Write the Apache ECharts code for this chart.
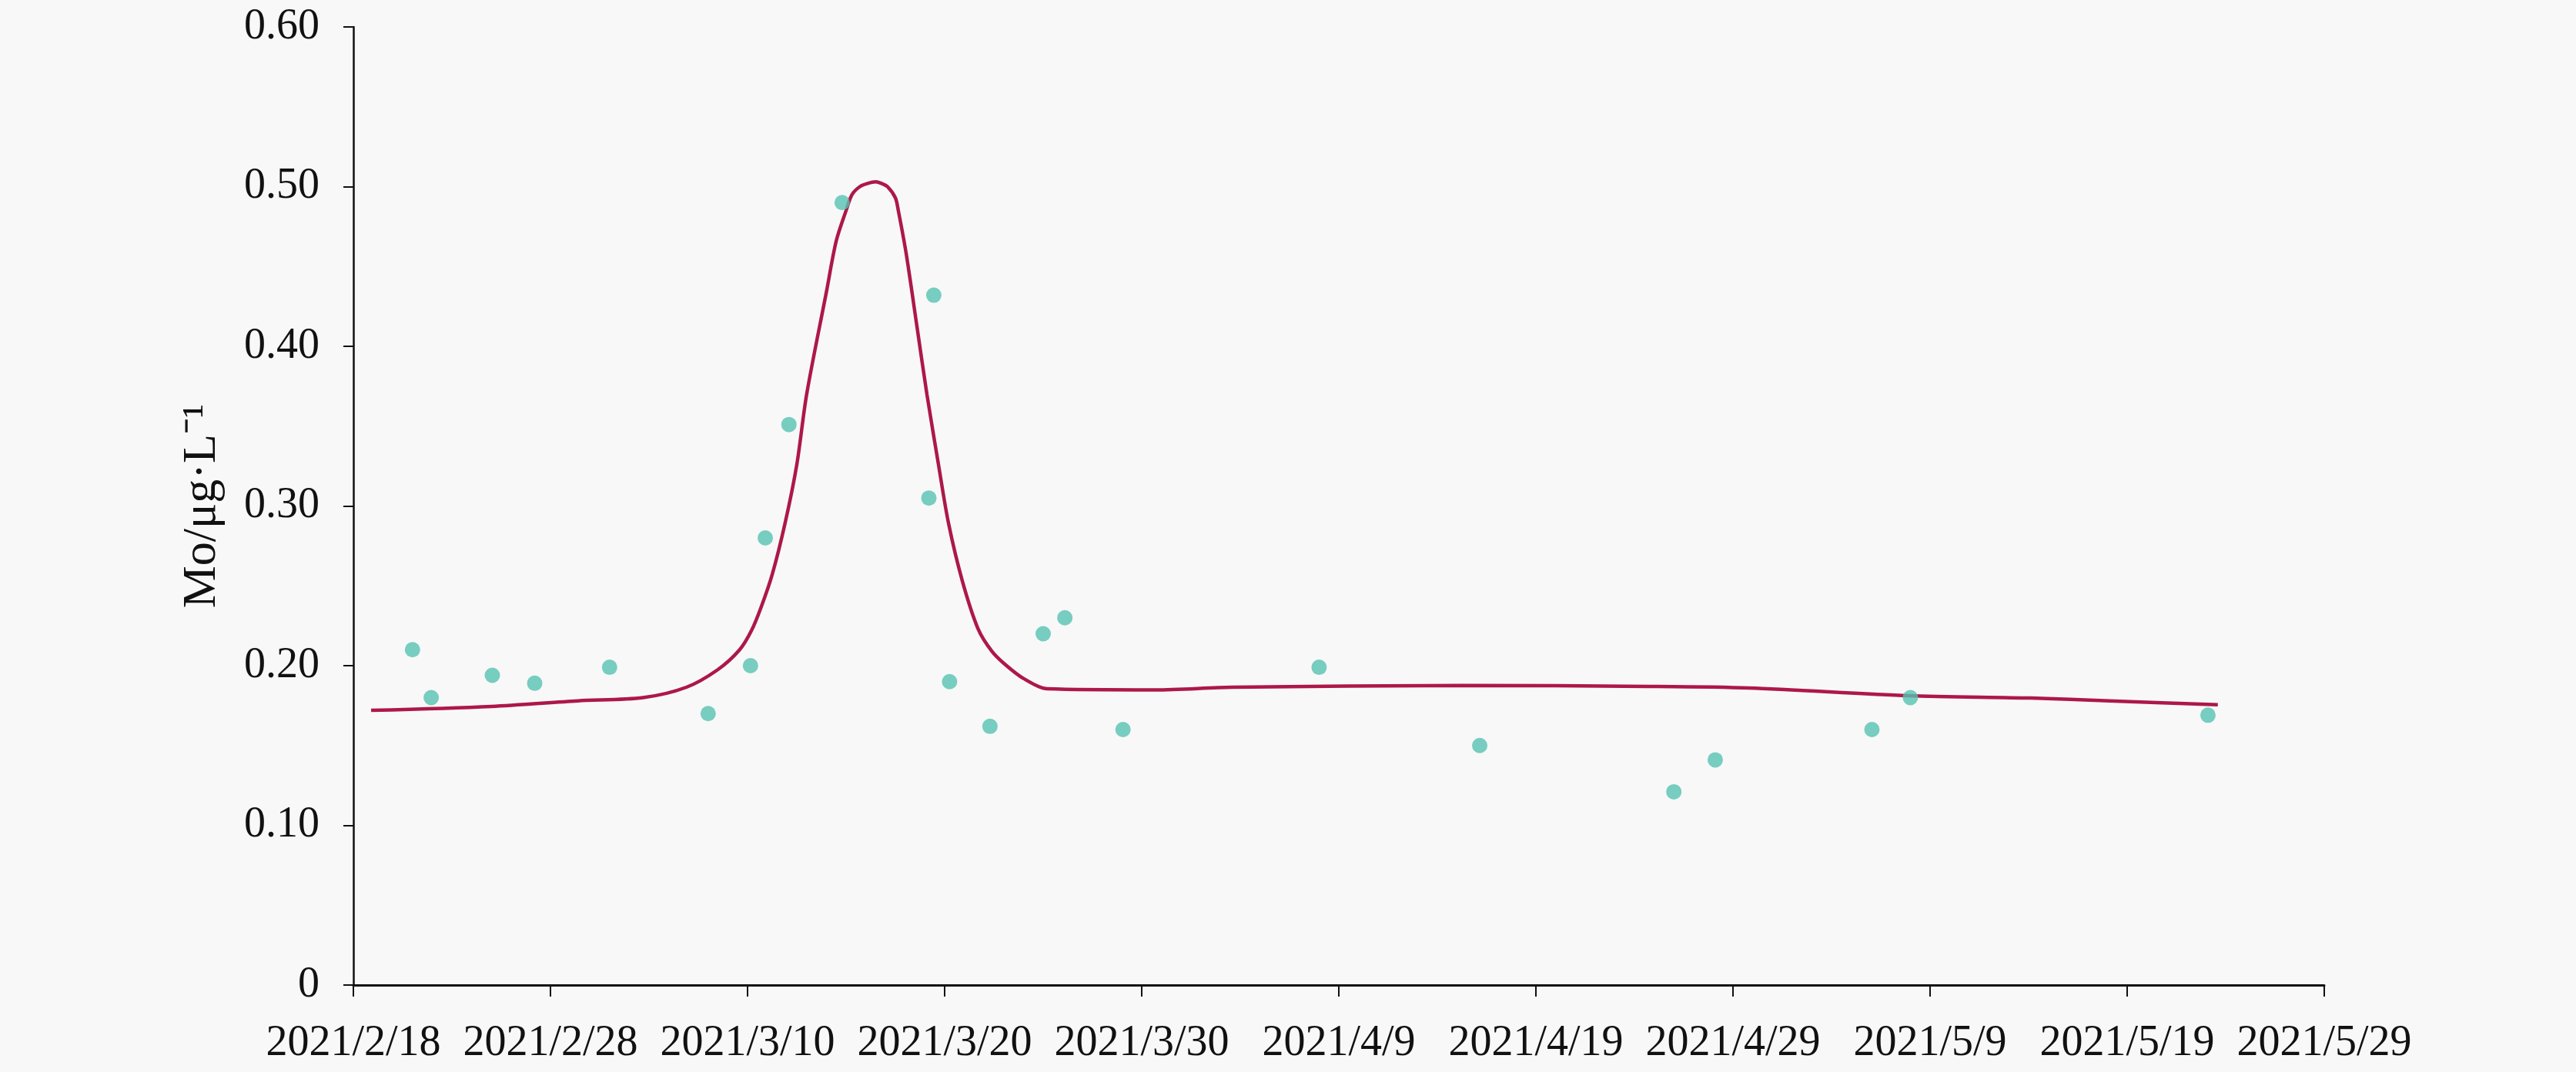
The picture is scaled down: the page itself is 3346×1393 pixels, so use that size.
<!DOCTYPE html>
<html>
<head>
<meta charset="utf-8">
<script src="https://cdn.jsdelivr.net/npm/echarts@6/dist/echarts.min.js"></script>
<style>
  html, body { margin: 0; padding: 0; background: #f8f8f8; }
  #chart { width: 3346px; height: 1393px; }
</style>
</head>
<body>
<div id="chart"></div>
<script>
// x is counted in days from 2021/2/18
const xTickLabels = ['2021/2/18', '2021/2/28', '2021/3/10', '2021/3/20', '2021/3/30',
  '2021/4/9', '2021/4/19', '2021/4/29', '2021/5/9', '2021/5/19', '2021/5/29']
const yTickLabels = ['0', '0.10', '0.20', '0.30', '0.40', '0.50', '0.60']

// measured Mo concentrations
const sampleDay = [3.0, 3.95, 7.05, 9.2, 13.0, 18.0, 20.15, 20.9, 22.1, 24.8, 29.2, 29.45,
  30.25, 32.3, 35.0, 36.1, 39.05, 49.0, 57.15, 67.0, 69.1, 77.05, 79.0, 94.1]
const sampleValue = [0.21, 0.18, 0.194, 0.189, 0.199, 0.17, 0.20, 0.28, 0.351, 0.49, 0.305, 0.432,
  0.19, 0.162, 0.22, 0.23, 0.16, 0.199, 0.15, 0.121, 0.141, 0.16, 0.18, 0.169]

// fitted curve
const fitDay = [0.9, 7.0, 11.4, 14.7, 16.9, 18.5, 19.6, 20.2, 20.7, 21.25, 21.9, 22.5, 23.0,
  24.0, 24.5, 25.0, 25.3, 25.7, 26.1, 26.5, 26.8, 27.1, 27.5, 27.65, 28.05, 28.6, 29.1, 29.7,
  30.2, 30.9, 31.7, 32.4, 33.05, 34.0, 35.2, 40.7, 44.6, 56.3, 65.7, 70.8, 78.9, 85.1, 89.1, 94.6]
const fitValue = [0.172, 0.1745, 0.178, 0.180, 0.1865, 0.1976, 0.21, 0.222, 0.237, 0.257, 0.289,
  0.326, 0.37, 0.434, 0.466, 0.485, 0.495, 0.50, 0.502, 0.503, 0.502, 0.50, 0.493, 0.485, 0.458,
  0.412, 0.37, 0.325, 0.289, 0.253, 0.223, 0.209, 0.201, 0.192, 0.1855, 0.1848, 0.1865, 0.1876,
  0.187, 0.186, 0.1812, 0.1797, 0.178, 0.1755]

const font = 'Liberation Serif'
const chart = echarts.init(document.getElementById('chart'))

chart.setOption({
  backgroundColor: '#f8f8f8',
  animation: false,
  grid: {
    left: 459,
    right: 327,
    top: 35,
    bottom: 113
  },
  xAxis: {
    type: 'value',
    min: 0,
    max: 100,
    interval: 10,
    axisLine: {
      lineStyle: { color: '#111', width: 3 }
    },
    axisTick: {
      length: 15,
      lineStyle: { color: '#111', width: 2 }
    },
    axisLabel: {
      margin: 48,
      fontFamily: font,
      fontSize: 56,
      color: '#111',
      formatter: v => xTickLabels[Math.round(v / 10)]
    },
    splitLine: { show: false }
  },
  yAxis: {
    type: 'value',
    min: 0,
    max: 0.6,
    interval: 0.1,
    name: 'Mo/μg·L⁻¹',
    nameLocation: 'middle',
    nameGap: 165,
    nameTextStyle: {
      fontFamily: font,
      fontSize: 62,
      color: '#111'
    },
    axisLine: {
      show: true,
      lineStyle: { color: '#111', width: 2.5 }
    },
    axisTick: {
      show: true,
      length: 13,
      lineStyle: { color: '#111', width: 2 }
    },
    axisLabel: {
      margin: 44,
      fontFamily: font,
      fontSize: 56,
      color: '#111',
      formatter: v => yTickLabels[Math.round(v * 10)]
    },
    splitLine: { show: false }
  },
  series: [
    {
      name: 'fit',
      type: 'line',
      smooth: 0.3,
      showSymbol: false,
      lineStyle: {
        color: '#ad1848',
        width: 4.5
      },
      data: fitDay.map((d, i) => [d, fitValue[i]]),
      z: 2
    },
    {
      name: 'measured',
      type: 'scatter',
      symbolSize: 20,
      itemStyle: {
        color: '#55c2b2'
      },
      data: sampleDay.map((d, i) => [d, sampleValue[i]]),
      z: 3
    }
  ]
})
</script>
</body>
</html>
